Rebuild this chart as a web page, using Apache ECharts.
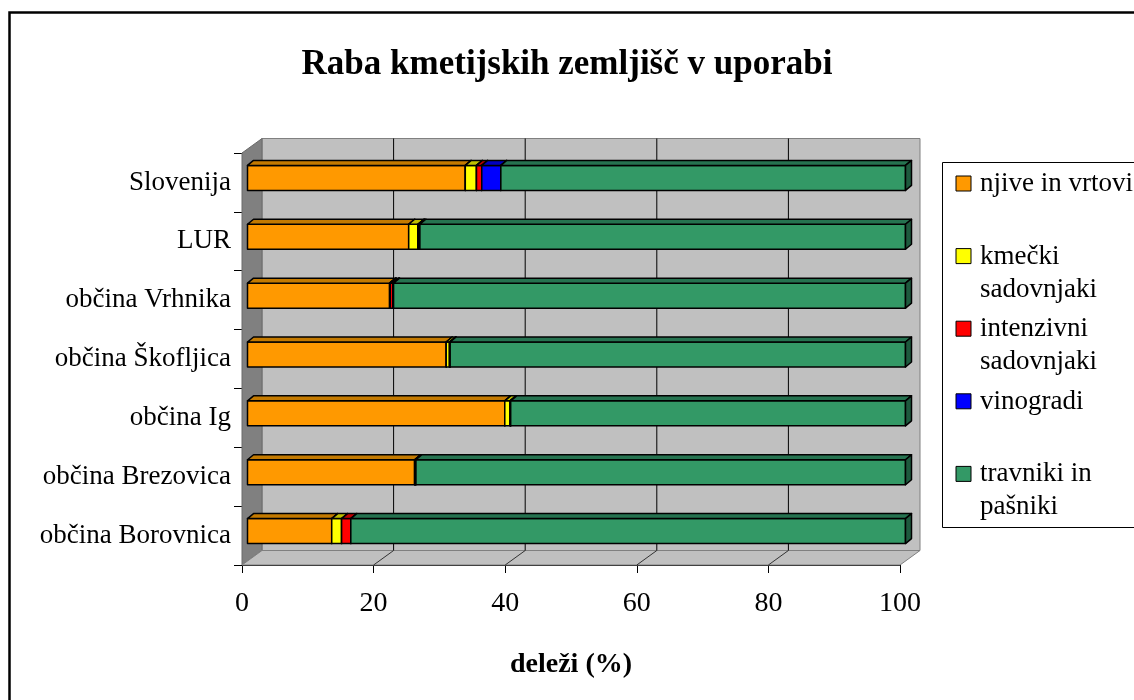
<!DOCTYPE html>
<html>
<head>
<meta charset="utf-8">
<script src="https://cdn.jsdelivr.net/npm/echarts@6/dist/echarts.min.js"></script>
<style>
  html, body { margin: 0; padding: 0; background: #fff; }
  #chart { width: 1134px; height: 700px; }
</style>
</head>
<body>
<div id="chart"></div>
<script>
const categories = ['Slovenija', 'LUR', 'občina Vrhnika', 'občina Škofljica', 'občina Ig', 'občina Brezovica', 'občina Borovnica']
const njive = [33.1, 24.5, 21.6, 30.2, 39.1, 25.4, 12.8]
const kmecki = [1.7, 1.4, 0.1, 0.5, 0.8, 0.1, 1.5]
const intenzivni = [0.8, 0.1, 0.4, 0.1, 0.1, 0.1, 1.4]
const vinogradi = [2.9, 0.2, 0.1, 0, 0, 0, 0]
const travniki = [61.5, 73.8, 77.8, 69.2, 60.0, 74.4, 84.3]
const xTicks = [0, 20, 40, 60, 80, 100]

const seriesNames = ['njive in vrtovi', 'kmečki sadovnjaki', 'intenzivni sadovnjaki', 'vinogradi', 'travniki in pašniki']
const legendLines = [['njive in vrtovi'], ['kmečki', 'sadovnjaki'], ['intenzivni', 'sadovnjaki'], ['vinogradi'], ['travniki in', 'pašniki']]
const colors = ['#FF9900', '#FFFF00', '#FF0000', '#0000FF', '#339966']
const topColors = ['#C47A00', '#BFBF00', '#C00000', '#0000C0', '#267350']
const sideColors = ['#9A5F00', '#8F8F00', '#900000', '#000090', '#1E5A3E']

const FONT = '"Liberation Serif", "Times New Roman", serif'
// 3d look: offsets of bar plane and back wall from the front plane
const BAR_SHIFT = [5.5, -4.5]
const BAR_DEPTH = [6, 5]
const WALL = [20, -14.5]

const chart = echarts.init(document.getElementById('chart'), null, { renderer: 'canvas' })

const renderWalls = (params, api) => {
  const cs = params.coordSys
  const L = cs.x, T = cs.y, R = cs.x + cs.width, B = cs.y + cs.height
  const [dx, dy] = WALL
  const children = [
    { type: 'rect', shape: { x: L + dx, y: T + dy, width: cs.width, height: cs.height },
      style: { fill: '#C0C0C0', stroke: '#808080', lineWidth: 1 } },
    { type: 'polygon', shape: { points: [[L, T], [L + dx, T + dy], [L + dx, B + dy], [L, B]] },
      style: { fill: '#808080', stroke: '#6A6A6A', lineWidth: 1 } },
    { type: 'polygon', shape: { points: [[L, B], [L + dx, B + dy], [R + dx, B + dy], [R, B]] },
      style: { fill: '#C0C0C0', stroke: '#808080', lineWidth: 1 } }
  ]
  xTicks.slice(1, -1).forEach(v => {
    const x = api.coord([v, 0])[0]
    children.push({ type: 'line', shape: { x1: x + dx, y1: T + dy, x2: x + dx, y2: B + dy },
      style: { stroke: '#000', lineWidth: 1 } })
    children.push({ type: 'line', shape: { x1: x + dx, y1: B + dy, x2: x, y2: B },
      style: { stroke: '#333', lineWidth: 1 } })
  })
  return { type: 'group', children }
}

const renderBar = si => (params, api) => {
  if (api.value(3) <= 0) return null
  const c = api.value(2)
  const p0 = api.coord([api.value(0), c])
  const p1 = api.coord([api.value(1), c])
  const h = api.size([0, 1])[1] * 0.425
  const x0 = p0[0] + BAR_SHIFT[0], x1 = p1[0] + BAR_SHIFT[0]
  const yc = p0[1] + BAR_SHIFT[1]
  const top = yc - h / 2, bottom = yc + h / 2
  const [dx, dy] = BAR_DEPTH
  const edge = { stroke: '#000', lineWidth: 1.5, lineJoin: 'round' }
  return {
    type: 'group',
    children: [
      { type: 'rect', shape: { x: x0, y: top, width: x1 - x0, height: h },
        style: Object.assign({ fill: colors[si] }, edge) },
      { type: 'polygon', shape: { points: [[x0, top], [x0 + dx, top - dy], [x1 + dx, top - dy], [x1, top]] },
        style: Object.assign({ fill: topColors[si] }, edge) },
      { type: 'polygon', shape: { points: [[x1, top], [x1 + dx, top - dy], [x1 + dx, bottom - dy], [x1, bottom]] },
        style: Object.assign({ fill: sideColors[si] }, edge) }
    ]
  }
}

const values = [njive, kmecki, intenzivni, vinogradi, travniki]
const cum = categories.map(() => 0)
const barSeries = values.map((vals, si) => ({
  type: 'custom',
  name: seriesNames[si],
  silent: true,
  renderItem: renderBar(si),
  encode: { x: [0, 1], y: 2 },
  data: vals.map((v, ci) => {
    const s = cum[ci]
    cum[ci] += v
    return [s, cum[ci], ci, v]
  })
}))

// legend drawn by hand so the marker sits on the first line like the original
const legendGraphic = [{
  type: 'rect', left: 942, top: 162,
  shape: { width: 260, height: 365 },
  style: { fill: '#fff', stroke: '#000', lineWidth: 1 }
}]
legendLines.forEach((lines, i) => {
  const cy = 184 + i * 72.6
  legendGraphic.push({ type: 'rect', x: 956, y: cy - 8,
    shape: { width: 15, height: 15 },
    style: { fill: colors[i], stroke: '#000', lineWidth: 1 } })
  lines.forEach((t, k) => {
    legendGraphic.push({ type: 'text', x: 980, y: cy + k * 33,
      style: { text: t, font: '27px ' + FONT, fill: '#000', verticalAlign: 'middle', align: 'left' } })
  })
})

const option = {
  animation: false,
  backgroundColor: '#fff',
  title: {
    text: 'Raba kmetijskih zemljišč v uporabi',
    left: 'center',
    top: 42,
    textStyle: { fontFamily: FONT, fontWeight: 'bold', fontSize: 35, color: '#000' }
  },
  grid: { left: 242, right: 234, top: 153, bottom: 135 },
  xAxis: {
    type: 'value',
    min: 0,
    max: 100,
    interval: 20,
    name: 'deleži (%)',
    nameLocation: 'middle',
    nameGap: 86,
    nameTextStyle: { fontFamily: FONT, fontWeight: 'bold', fontSize: 28, color: '#000' },
    axisLine: { show: true, lineStyle: { color: '#000', width: 1 } },
    axisTick: { show: true, length: 8, lineStyle: { color: '#000' } },
    axisLabel: { fontFamily: FONT, fontSize: 28, color: '#000', margin: 25 },
    splitLine: { show: false }
  },
  yAxis: {
    type: 'category',
    inverse: true,
    data: categories,
    axisLine: { show: true, lineStyle: { color: '#000', width: 1 } },
    axisTick: { show: true, length: 8, lineStyle: { color: '#000' } },
    axisLabel: { fontFamily: FONT, fontSize: 27, color: '#000', margin: 11 },
    splitLine: { show: false }
  },
  series: [{
    type: 'custom',
    silent: true,
    z: 1,
    renderItem: renderWalls,
    encode: { x: 0, y: 1 },
    data: [[0, 0]]
  }].concat(barSeries),
  graphic: [{
    type: 'rect', left: 7, top: 10, z: 100,
    shape: { width: 1300, height: 900 },
    style: { fill: 'none', stroke: '#000', lineWidth: 2.5 }
  }].concat(legendGraphic)
}

chart.setOption(option)
</script>
</body>
</html>
